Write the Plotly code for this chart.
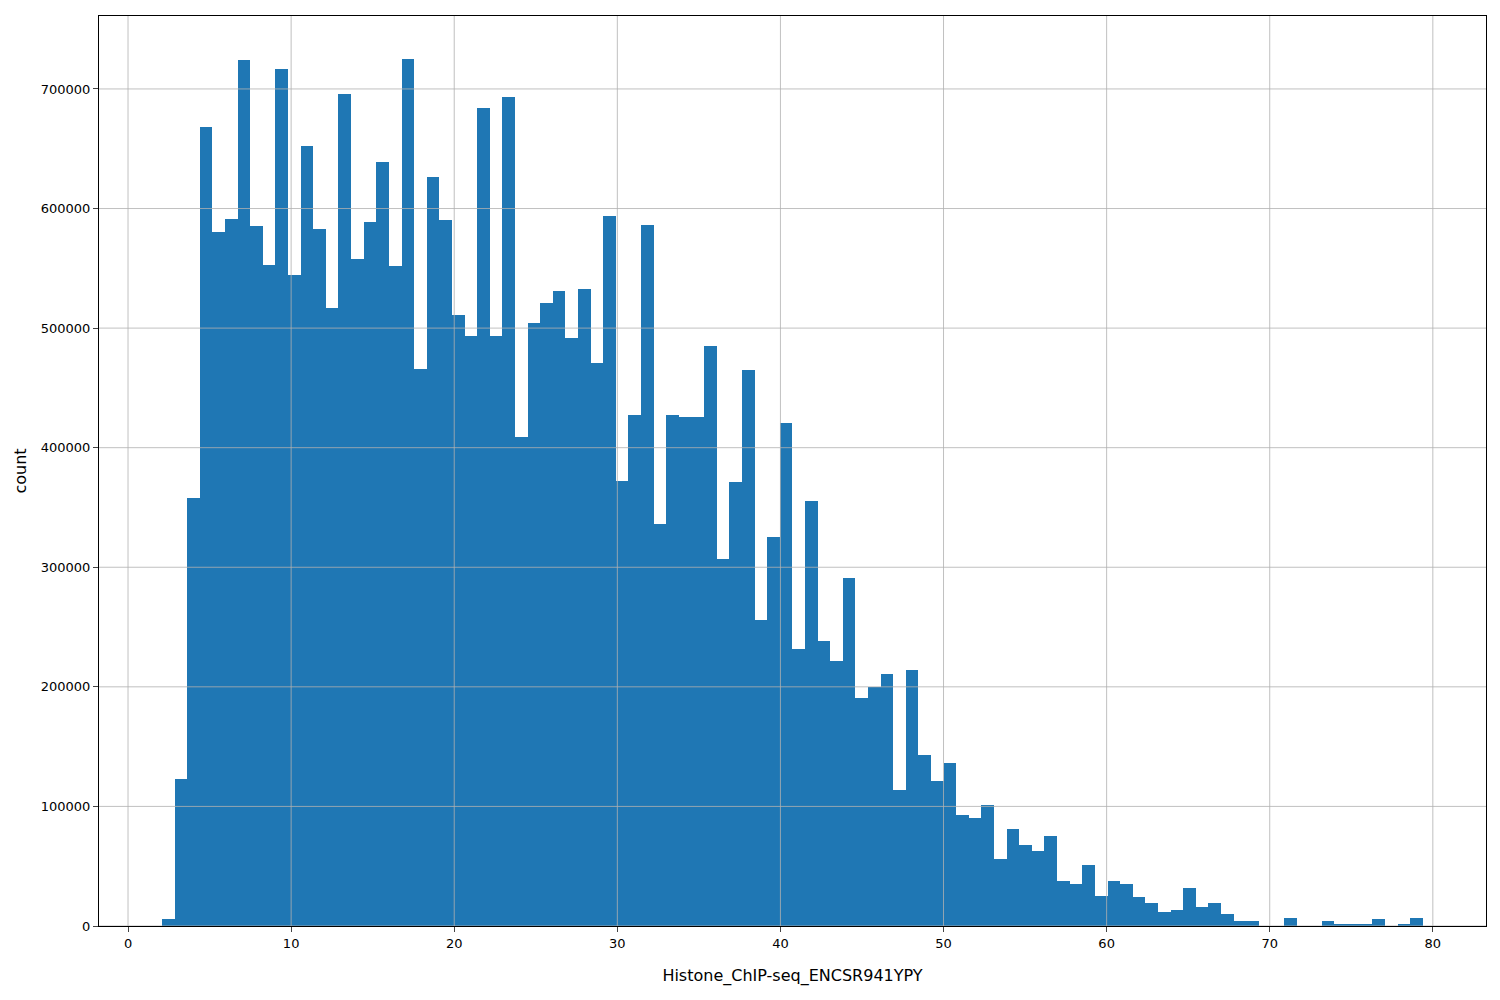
import plotly.graph_objects as go

bin_start = 2.08
bin_width = 0.773
counts = [6000,123000,358000,668000,580000,591000,724000,585000,553000,717000,
          544000,652000,583000,517000,696000,558000,589000,639000,552000,725000,
          466000,626000,590000,511000,493000,684000,493000,693000,409000,504000,
          521000,531000,492000,533000,471000,594000,372000,427000,586000,336000,
          427000,426000,426000,485000,307000,371000,465000,256000,325000,421000,
          232000,355000,238000,222000,291000,191000,200000,211000,114000,214000,
          143000,121000,136000,93000,90000,101000,56000,81000,68000,63000,
          75000,38000,35000,51000,25000,38000,35000,24000,19000,12000,
          13000,32000,16000,19000,10000,4000,4000,0,0,7000,
          0,0,4000,1000,1000,2000,6000,0,1000,7000]
x_ticks = [0,10,20,30,40,50,60,70,80]
y_ticks = [0,100000,200000,300000,400000,500000,600000,700000]

centers = [bin_start + bin_width*(i+0.5) for i in range(len(counts))]

fig = go.Figure(go.Bar(x=centers, y=counts, width=bin_width, marker_color="#1f77b4",
                       marker_line_width=0))
shapes = []
for t in x_ticks:
    shapes.append(dict(type="line", xref="x", yref="paper", x0=t, x1=t, y0=0, y1=1,
                       line=dict(color="rgba(176,176,176,0.8)", width=1), layer="above"))
for t in y_ticks:
    shapes.append(dict(type="line", xref="paper", yref="y", x0=0, x1=1, y0=t, y1=t,
                       line=dict(color="rgba(176,176,176,0.8)", width=1), layer="above"))
fig.update_layout(
    width=1500, height=1000, plot_bgcolor="white", paper_bgcolor="white",
    margin=dict(l=91, r=22, t=8, b=82), bargap=0, showlegend=False, shapes=shapes,
    font=dict(family="DejaVu Sans", size=13, color="black"),
    xaxis=dict(range=[-1.78, 83.26], tickvals=x_ticks, showgrid=False, zeroline=False,
               showline=True, mirror=True, linecolor="black", ticks="outside",
               ticklen=5, title=dict(text="Histone_ChIP-seq_ENCSR941YPY", standoff=20)),
    yaxis=dict(range=[0, 761000], tickvals=y_ticks, tickformat="d", showgrid=False,
               zeroline=False, showline=True, mirror=True, linecolor="black",
               ticks="outside", ticklen=5, title=dict(text="count", standoff=10)),
)
fig.write_html("out.html")
